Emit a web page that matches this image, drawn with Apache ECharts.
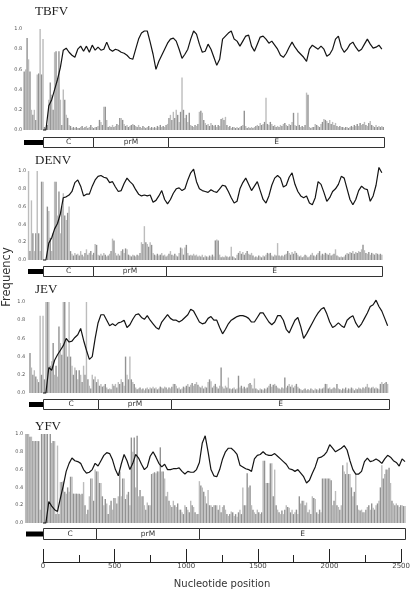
<!DOCTYPE html>
<html>
<head>
<meta charset="utf-8">
<script src="https://cdn.jsdelivr.net/npm/echarts@6/dist/echarts.min.js"></script>
<style>
  html, body { margin: 0; padding: 0; background: #fff; }
  #chart { width: 413px; height: 590px; }
</style>
</head>
<body>
<div id="chart"></div>
<script>
// frequency bars every 10 nt starting at -130 (5' UTR), sliding window line every 20 nt from 0
let barStart = -130;
let barStep = 10;
let lineStep = 20;

let virusNames = ['TBFV', 'DENV', 'JEV', 'YFV'];
let geneNames = ['', 'C', 'prM', 'E'];
let posTicks = [0, 500, 1000, 1500, 2000, 2500];

// genome map: UTR start, C start, prM start, E start, E end (nt)
let tbfvGenome = [-131, 0, 345, 863, 2355];
let denvGenome = [-104, 0, 347, 849, 2341];
let jevGenome = [-97, 0, 380, 884, 2389];
let yfvGenome = [-117, 0, 366, 1077, 2500];

let tbfvBars = [
  0.58,0.6,0.91,0.7,0.58,0.2,0.15,0.2,0.1,0.55,
  0.56,1.0,0.55,0.9,0.03,0.02,0.05,0.3,0.47,0.35,
  0.2,0.77,0.78,0.5,0.78,0.3,0.05,0.4,0.3,0.15,
  0.12,0.05,0.04,0.02,0.03,0.02,0.03,0.02,0.02,0.03,
  0.04,0.02,0.03,0.04,0.02,0.03,0.05,0.03,0.02,0.03,
  0.03,0.04,0.1,0.08,0.05,0.23,0.23,0.1,0.03,0.04,
  0.03,0.05,0.03,0.04,0.06,0.05,0.12,0.12,0.1,0.06,
  0.04,0.05,0.03,0.04,0.05,0.06,0.05,0.04,0.03,0.05,
  0.03,0.02,0.04,0.03,0.02,0.03,0.04,0.02,0.03,0.02,
  0.03,0.02,0.04,0.03,0.05,0.03,0.04,0.03,0.05,0.06,
  0.12,0.15,0.1,0.18,0.12,0.2,0.15,0.08,0.18,0.52,
  0.2,0.12,0.15,0.08,0.17,0.05,0.04,0.03,0.05,0.04,
  0.06,0.18,0.19,0.17,0.1,0.07,0.05,0.06,0.04,0.07,
  0.05,0.04,0.05,0.03,0.05,0.04,0.11,0.12,0.1,0.13,
  0.05,0.03,0.04,0.02,0.03,0.03,0.02,0.03,0.02,0.03,
  0.04,0.05,0.19,0.04,0.02,0.03,0.02,0.03,0.02,0.03,
  0.04,0.05,0.04,0.07,0.05,0.06,0.08,0.32,0.06,0.05,
  0.08,0.06,0.04,0.05,0.03,0.04,0.03,0.05,0.04,0.06,
  0.07,0.05,0.04,0.06,0.05,0.08,0.17,0.05,0.04,0.17,
  0.05,0.03,0.04,0.03,0.05,0.37,0.35,0.03,0.02,0.03,
  0.03,0.06,0.05,0.04,0.03,0.06,0.08,0.11,0.1,0.09,
  0.07,0.1,0.06,0.08,0.05,0.07,0.04,0.03,0.04,0.03,
  0.03,0.02,0.03,0.03,0.02,0.03,0.04,0.03,0.05,0.04,
  0.06,0.04,0.07,0.05,0.06,0.08,0.05,0.04,0.07,0.09,
  0.05,0.04,0.03,0.05,0.03,0.04,0.03,0.04,0.03
];
let tbfvLine = [
  0,0,0.24,0.3,0.4,0.5,0.62,0.79,0.81,0.77,
  0.74,0.72,0.8,0.83,0.78,0.83,0.77,0.84,0.79,0.82,
  0.79,0.8,0.87,0.8,0.78,0.8,0.79,0.77,0.76,0.74,
  0.71,0.7,0.8,0.9,0.96,0.98,0.98,0.87,0.75,0.6,
  0.68,0.74,0.8,0.86,0.9,0.91,0.88,0.8,0.71,0.75,
  0.8,0.9,0.98,0.95,0.85,0.77,0.78,0.85,0.8,0.72,
  0.64,0.7,0.9,0.93,0.96,0.98,0.9,0.88,0.83,0.88,
  0.93,0.94,0.83,0.78,0.85,0.92,0.93,0.9,0.86,0.88,
  0.84,0.8,0.74,0.72,0.76,0.82,0.87,0.82,0.78,0.75,
  0.72,0.68,0.8,0.84,0.82,0.8,0.83,0.8,0.73,0.75,
  0.8,0.9,0.93,0.82,0.77,0.8,0.85,0.87,0.82,0.78,
  0.8,0.85,0.9,0.85,0.81,0.82,0.84,0.8
];

let denvBars = [
  0,0,0,1.0,0.1,0.67,0.3,0.1,0.3,1.0,
  0.3,0.1,0.88,0.88,0,0,0.6,0.55,0.25,0.1,
  0.3,0.88,0.88,0.5,0.77,0.3,0.6,0.75,0.5,0.45,
  0.53,0.6,0.1,0.07,0.05,0.08,0.06,0.07,0.05,0.1,
  0.06,0.04,0.08,0.12,0.06,0.08,0.1,0.06,0.08,0.18,
  0.17,0.06,0.05,0.07,0.05,0.08,0.06,0.04,0.05,0.07,
  0.1,0.24,0.22,0.08,0.05,0.07,0.05,0.1,0.12,0.08,
  0.13,0.12,0.06,0.05,0.04,0.06,0.05,0.04,0.06,0.05,
  0.08,0.2,0.18,0.38,0.2,0.18,0.15,0.2,0.17,0.08,
  0.06,0.05,0.07,0.05,0.06,0.08,0.05,0.06,0.04,0.05,
  0.07,0.1,0.06,0.05,0.07,0.05,0.04,0.08,0.14,0.13,
  0.06,0.14,0.17,0.08,0.05,0.06,0.05,0.07,0.05,0.06,
  0.04,0.05,0.04,0.06,0.03,0.05,0.04,0.03,0.05,0.04,
  0.06,0.04,0.22,0.23,0.22,0.06,0.03,0.04,0.03,0.05,
  0.04,0.03,0.04,0.15,0.04,0.03,0.02,0.06,0.08,0.1,
  0.07,0.09,0.06,0.08,0.1,0.07,0.06,0.08,0.05,0.03,
  0.04,0.03,0.05,0.04,0.03,0.05,0.04,0.06,0.08,0.07,
  0.08,0.05,0.04,0.06,0.05,0.19,0.05,0.04,0.05,0.04,
  0.06,0.07,0.1,0.08,0.06,0.09,0.07,0.1,0.08,0.06,
  0.04,0.05,0.03,0.04,0.06,0.05,0.03,0.04,0.06,0.08,
  0.05,0.04,0.06,0.08,0.1,0.05,0.07,0.06,0.08,0.07,
  0.06,0.08,0.05,0.06,0.07,0.12,0.05,0.04,0.03,0.04,
  0.03,0.04,0.06,0.08,0.07,0.09,0.08,0.1,0.07,0.09,
  0.08,0.1,0.09,0.12,0.17,0.11,0.08,0.07,0.09,0.06,
  0.08,0.07,0.06,0.08,0.07,0.06,0.07,0.06
];
let denvLine = [
  0,0,0.19,0.25,0.35,0.41,0.52,0.7,0.71,0.73,
  0.77,0.87,0.9,0.83,0.72,0.74,0.74,0.83,0.9,0.94,
  0.95,0.93,0.92,0.87,0.88,0.82,0.77,0.78,0.86,0.92,
  0.88,0.85,0.79,0.74,0.72,0.73,0.72,0.73,0.65,0.67,
  0.72,0.78,0.68,0.63,0.68,0.75,0.8,0.81,0.78,0.8,
  0.9,0.98,1.02,0.88,0.8,0.78,0.77,0.76,0.79,0.77,
  0.76,0.8,0.84,0.83,0.77,0.7,0.64,0.66,0.8,0.87,
  0.92,0.85,0.78,0.83,0.88,0.78,0.68,0.64,0.72,0.84,
  0.92,0.95,0.92,0.82,0.84,0.93,0.98,0.85,0.77,0.72,
  0.7,0.72,0.64,0.62,0.7,0.88,0.85,0.76,0.66,0.7,
  0.77,0.8,0.85,0.94,0.92,0.8,0.68,0.62,0.68,0.78,
  0.83,0.8,0.79,0.66,0.72,0.84,1.04,0.98
];

let jevBars = [
  0,0,0,0,0.44,0.28,0.2,0.25,0.18,0.15,
  0.12,0.85,0.2,0.85,0.15,1.0,1.0,1.0,0.3,0.35,
  0.55,0.2,0.3,0.18,0.73,0.55,0.42,1.0,1.0,0.6,
  0.4,1.0,0.4,0.3,0.2,0.28,0.25,0.15,0.25,0.2,
  0.12,0.3,0.2,1.0,0.15,0.08,0.05,0.2,0.15,0.18,
  0.12,0.15,0.08,0.1,0.07,0.08,0.1,0.06,0.04,0.05,
  0.04,0.1,0.08,0.1,0.06,0.12,0.1,0.15,0.12,0.08,
  0.4,0.2,0.15,0.4,0.15,0.12,0.1,0.06,0.04,0.05,
  0.06,0.04,0.05,0.03,0.05,0.06,0.04,0.06,0.05,0.07,
  0.05,0.06,0.04,0.05,0.07,0.06,0.05,0.07,0.06,0.04,
  0.06,0.05,0.07,0.1,0.1,0.08,0.05,0.06,0.04,0.05,
  0.07,0.06,0.08,0.1,0.07,0.09,0.11,0.08,0.1,0.12,
  0.09,0.07,0.06,0.08,0.05,0.07,0.06,0.12,0.15,0.13,
  0.06,0.08,0.1,0.07,0.05,0.08,0.28,0.07,0.05,0.08,
  0.06,0.17,0.05,0.04,0.05,0.06,0.04,0.05,0.19,0.06,
  0.08,0.05,0.07,0.05,0.06,0.1,0.11,0.09,0.05,0.16,
  0.05,0.04,0.03,0.05,0.04,0.03,0.05,0.04,0.06,0.08,
  0.1,0.07,0.09,0.1,0.08,0.06,0.05,0.04,0.06,0.05,
  0.17,0.06,0.08,0.1,0.07,0.09,0.06,0.08,0.1,0.07,
  0.05,0.04,0.03,0.04,0.05,0.03,0.04,0.03,0.05,0.04,
  0.03,0.05,0.04,0.03,0.05,0.04,0.05,0.06,0.1,0.1,
  0.05,0.06,0.04,0.05,0.06,0.05,0.1,0.05,0.04,0.03,
  0.05,0.04,0.06,0.03,0.05,0.04,0.06,0.05,0.03,0.05,
  0.04,0.06,0.05,0.04,0.06,0.05,0.07,0.1,0.06,0.05,
  0.06,0.07,0.05,0.06,0.05,0.04,0.1,0.12,0.1,0.11,
  0.12,0.1
];
let jevLine = [
  0,0,0.28,0.25,0.36,0.42,0.47,0.52,0.6,0.56,
  0.57,0.61,0.64,0.71,0.58,0.47,0.37,0.4,0.6,0.77,
  0.86,0.86,0.8,0.74,0.76,0.74,0.77,0.78,0.8,0.72,
  0.75,0.81,0.86,0.87,0.83,0.81,0.85,0.8,0.76,0.72,
  0.7,0.78,0.82,0.86,0.82,0.8,0.8,0.78,0.8,0.83,
  0.86,0.92,0.9,0.84,0.78,0.76,0.77,0.82,0.84,0.8,
  0.8,0.72,0.65,0.7,0.76,0.8,0.82,0.84,0.85,0.85,
  0.84,0.82,0.78,0.78,0.83,0.88,0.88,0.83,0.78,0.75,
  0.78,0.85,0.85,0.8,0.7,0.66,0.73,0.8,0.83,0.73,
  0.6,0.65,0.71,0.77,0.83,0.88,0.92,0.94,0.87,0.78,
  0.72,0.74,0.77,0.74,0.72,0.8,0.83,0.85,0.77,0.72,
  0.76,0.82,0.88,0.95,0.97,1.02,0.95,0.9,0.82,0.74
];

let yfvBars = [
  0,1.0,1.0,1.0,0.97,0.97,0.92,0.92,0.92,0.92,
  0.92,0.15,1.0,1.0,1.0,1.0,1.0,0.2,1.0,0.9,
  0.92,0.92,0.1,0.87,0.1,0.46,0.46,0.47,0.35,0.33,
  0.4,0.35,0.52,0.52,0.33,0.33,0.33,0.33,0.33,0.32,
  0.33,0.46,0.2,0.1,0.15,0.3,0.5,0.5,0.25,0.6,
  0.58,0.58,0.45,0.45,0.3,0.2,0.27,0.22,0.1,0.2,
  0.25,0.15,0.28,0.28,0.22,0.3,0.58,0.3,0.5,0.5,
  0.27,0.32,0.35,0.2,0.96,0.8,0.96,0.4,0.98,0.3,
  0.37,0.3,0.3,0.2,0.15,0.23,0.2,0.2,0.55,0.56,
  0.57,0.56,0.58,0.58,0.85,0.58,0.58,0.5,0.3,0.35,
  0.25,0.2,0.18,0.25,0.2,0.18,0.22,0.15,0.15,0.12,
  0.1,0.2,0.18,0.15,0.12,0.25,0.2,0.18,0.12,0.1,
  0.1,0.47,0.42,0.4,0.35,0.3,0.22,0.37,0.2,0.2,
  0.18,0.2,0.2,0.2,0.15,0.2,0.12,0.18,0.2,0.15,
  0.1,0.08,0.1,0.13,0.12,0.08,0.1,0.07,0.12,0.15,
  0.1,0.4,0.2,0.2,0.56,0.4,0.42,0.2,0.15,0.12,
  0.1,0.15,0.12,0.1,0.12,0.7,0.7,0.45,0.45,0.45,
  0.67,0.67,0.3,0.6,0.2,0.15,0.12,0.1,0.14,0.1,
  0.15,0.2,0.18,0.17,0.12,0.15,0.1,0.12,0.15,0.1,
  0.3,0.22,0.25,0.25,0.2,0.23,0.12,0.15,0.1,0.3,
  0.28,0.27,0.12,0.1,0.15,0.12,0.5,0.5,0.5,0.5,
  0.5,0.5,0.48,0.2,0.25,0.36,0.2,0.18,0.15,0.2,
  0.65,0.58,0.55,0.68,0.55,0.55,0.4,0.3,0.35,0.55,
  0.2,0.15,0.14,0.15,0.12,0.12,0.15,0.18,0.2,0.15,
  0.22,0.17,0.15,0.2,0.22,0.25,0.4,0.65,0.5,0.55,
  0.6,0.6,0.62,0.45,0.25,0.22,0.2,0.22,0.2,0.18,
  0.2,0.2,0.19,0.19
];
let yfvLine = [
  0,0,0.24,0.19,0.15,0.13,0.28,0.42,0.58,0.67,
  0.73,0.7,0.69,0.67,0.6,0.56,0.57,0.6,0.67,0.64,
  0.7,0.76,0.79,0.78,0.71,0.6,0.53,0.66,0.77,0.7,
  0.6,0.67,0.77,0.73,0.66,0.6,0.63,0.75,0.8,0.74,
  0.67,0.63,0.66,0.6,0.6,0.61,0.61,0.62,0.58,0.55,
  0.58,0.57,0.57,0.6,0.68,0.9,0.98,0.8,0.6,0.53,
  0.52,0.6,0.72,0.8,0.84,0.84,0.81,0.77,0.65,0.63,
  0.61,0.6,0.58,0.72,0.76,0.77,0.8,0.77,0.76,0.76,
  0.78,0.75,0.72,0.69,0.66,0.61,0.6,0.58,0.6,0.56,
  0.52,0.45,0.48,0.56,0.63,0.73,0.74,0.76,0.8,0.88,
  0.84,0.8,0.82,0.84,0.87,0.82,0.7,0.6,0.55,0.55,
  0.58,0.69,0.73,0.69,0.7,0.72,0.7,0.67,0.72,0.76,
  0.74,0.7,0.68,0.64,0.72,0.69
];

let allBars = [tbfvBars, denvBars, jevBars, yfvBars];
let allLines = [tbfvLine, denvLine, jevLine, yfvLine];
let allGenomes = [tbfvGenome, denvGenome, jevGenome, yfvGenome];

// layout (px)
let panelTop = [29, 171, 302, 434];
let panelHeight = [101, 89, 91, 89];
let genomeTop = [137, 266, 399, 528];
let genomeHeight = [10, 10, 10, 11];
let titleTop = [5.5, 154, 283.5, 420.5];
let labelShift = [0, -4, -3, -1];
let plotLeft = 24.2;
let plotRight = 8;

let myChart = echarts.init(document.getElementById('chart'), null, {renderer: 'canvas'});

let grids = [], xAxes = [], yAxes = [], series = [], titles = [];

for (let p = 0; p < 4; p++) {
    let gi = grids.length;
    grids.push({left: plotLeft, right: plotRight, top: panelTop[p], height: panelHeight[p]});
    grids.push({left: plotLeft, right: plotRight, top: genomeTop[p], height: genomeHeight[p]});

    xAxes.push({gridIndex: gi, type: 'value', min: barStart, max: 2500, show: false});
    xAxes.push({gridIndex: gi + 1, type: 'value', min: barStart, max: 2500, show: false});
    yAxes.push({
        gridIndex: gi, type: 'value', min: 0, max: 1, interval: 0.2,
        offset: labelShift[p],
        axisLine: {show: false}, axisTick: {show: false}, splitLine: {show: false},
        axisLabel: {
            fontSize: 5, color: '#555', margin: 2, fontFamily: 'DejaVu Sans',
            formatter: function (v) { return v.toFixed(1); }
        }
    });
    yAxes.push({gridIndex: gi + 1, type: 'value', min: 0, max: 1, show: false});

    titles.push({
        text: virusNames[p], left: 35, top: titleTop[p], padding: 0,
        textStyle: {fontFamily: 'Liberation Serif', fontSize: 13, fontWeight: 'normal', color: '#222'}
    });

    series.push({
        type: 'bar',
        xAxisIndex: gi, yAxisIndex: gi,
        barWidth: 1.4,
        data: allBars[p].map(function (v, i) { return [barStart + i * barStep, v]; }),
        itemStyle: {
            color: function (params) { return params.dataIndex % 2 ? '#bcbcbc' : '#929292'; }
        },
        silent: true, z: 2
    });
    series.push({
        type: 'line',
        xAxisIndex: gi, yAxisIndex: gi,
        showSymbol: false, symbol: 'none',
        clip: false,
        lineStyle: {color: '#141414', width: 1.2},
        data: allLines[p].map(function (v, k) { return [k * lineStep, v]; }),
        silent: true, z: 3
    });

    let g = allGenomes[p];
    let genomeData = [];
    for (let s = 0; s < 4; s++) genomeData.push([g[s], g[s + 1], 0.5]);
    series.push({
        type: 'custom',
        xAxisIndex: gi + 1, yAxisIndex: gi + 1,
        encode: {x: [0, 1], y: 2},
        clip: false, silent: true,
        data: genomeData,
        renderItem: function (params, api) {
            let a = api.coord([api.value(0), 0]);
            let b = api.coord([api.value(1), 1]);
            let x0 = Math.round(a[0]) + 0.5, x1 = Math.round(b[0]) + 0.5;
            let yTop = Math.round(b[1]) + 0.5, yBot = Math.round(a[1]) + 0.5;
            if (params.dataIndex === 0) {
                let h = 5;
                let yc = (yTop + yBot) / 2;
                return {
                    type: 'rect',
                    shape: {x: x0 - 0.5, y: yc - h / 2, width: x1 - x0 + 0.5, height: h},
                    style: {fill: '#000'}
                };
            }
            return {
                type: 'group',
                children: [{
                    type: 'rect',
                    shape: {x: x0, y: yTop, width: x1 - x0, height: yBot - yTop},
                    style: {fill: '#fff', stroke: '#333', lineWidth: 1}
                }, {
                    type: 'text',
                    style: {
                        text: geneNames[params.dataIndex],
                        x: (x0 + x1) / 2, y: (yTop + yBot) / 2,
                        align: 'center', verticalAlign: 'middle',
                        fontSize: 7.5, fill: '#333', fontFamily: 'DejaVu Sans'
                    }
                }]
            };
        }
    });
}

// shared nucleotide position axis at the bottom
let bi = grids.length;
grids.push({left: 43, right: plotRight, top: 562, height: 20});
xAxes.push({
    gridIndex: bi, type: 'value', position: 'top',
    min: posTicks[0], max: posTicks[posTicks.length - 1], interval: 500,
    axisLine: {onZero: false, lineStyle: {color: '#222', width: 1}},
    axisTick: {length: 13, lineStyle: {color: '#222', width: 1}},
    minorTick: {show: true, splitNumber: 2, length: 7, lineStyle: {color: '#222', width: 1}},
    splitLine: {show: false},
    axisLabel: {
        inside: true, margin: 1, fontSize: 7, color: '#444', fontFamily: 'DejaVu Sans',
        formatter: function (v) { return String(v); }
    },
    name: 'Nucleotide position', nameLocation: 'middle', nameGap: -27,
    nameTextStyle: {fontSize: 10, color: '#333', fontFamily: 'DejaVu Sans'}
});
yAxes.push({gridIndex: bi, type: 'value', min: 0, max: 1, show: false});

let option = {
    animation: false,
    backgroundColor: '#fff',
    title: titles,
    grid: grids,
    xAxis: xAxes,
    yAxis: yAxes,
    series: series,
    graphic: [{
        type: 'text', x: 7, y: 277, rotation: Math.PI / 2,
        style: {
            text: 'Frequency', align: 'center', verticalAlign: 'middle',
            fontSize: 11.5, fill: '#333', fontFamily: 'DejaVu Sans'
        }
    }]
};

myChart.setOption(option);
</script>
</body>
</html>
